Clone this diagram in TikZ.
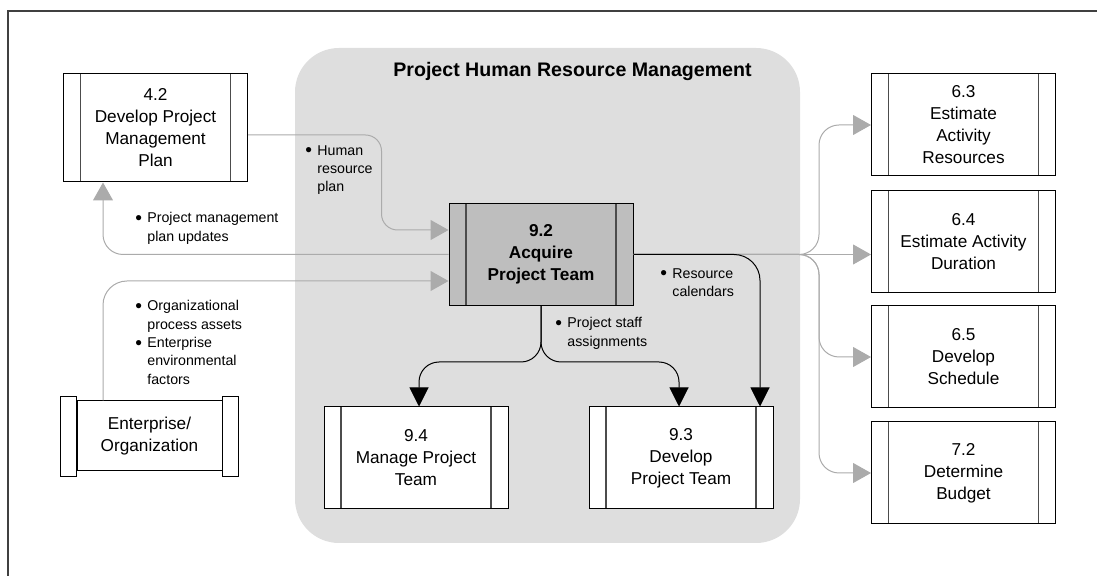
\documentclass[tikz,border=0pt]{standalone}
\usepackage{fontspec}
\setmainfont{Liberation Sans}
\usepackage{tikz}
\usetikzlibrary{arrows.meta,positioning,calc}
\definecolor{HrRegion}{HTML}{DEDEDE}
\definecolor{HrCore}{HTML}{BEBEBE}
\definecolor{HrFeed}{HTML}{ABABAB}
\definecolor{HrTip}{HTML}{A0A0A0}
\newcommand{\bitem}{\makebox[6pt][l]{\raisebox{-0.9pt}{\scalebox{1.35}{\textbullet}}}}
\newcommand{\bcont}{\hspace*{6pt}}

\begin{document}
\begin{tikzpicture}[
    x=0.5pt,y=-0.5pt,
    proc/.style={draw,line width=0.5pt,fill=white,minimum width=92pt,minimum height=51pt,inner sep=0pt,align=center,
      font=\fontsize{8.6}{11}\selectfont,
      path picture={
        \draw[line width=0.8pt,black!70] ([xshift=8.5pt]path picture bounding box.north west) -- ([xshift=8.5pt]path picture bounding box.south west);
        \draw[line width=0.8pt,black!70] ([xshift=-8.5pt]path picture bounding box.north east) -- ([xshift=-8.5pt]path picture bounding box.south east);
      }},
    lbl/.style={anchor=north west,inner sep=0pt,align=left,font=\fontsize{7.1}{9.2}\selectfont},
    feed/.style={-{Triangle[length=9pt,width=10pt]},HrFeed,line width=0.5pt,rounded corners=8pt},
    flow/.style={-{Triangle[length=9.5pt,width=9.5pt]},black,line width=0.5pt,rounded corners=10pt}
  ]
    \useasboundingbox (0,0) rectangle (1097,576);
    \draw[black!75,line width=0.8pt] (8,576) -- (8,11) -- (1097,11);
    \fill[HrRegion,rounded corners=22pt] (295,48) rectangle (800,543);
    \node[anchor=base,font=\fontsize{9.8}{12}\selectfont\bfseries] (title) at (572.5,77) {Project Human Resource Management};

    % processes
    \node[proc,minimum height=54pt] (dpmp) at (155.5,128) {4.2\\Develop Project\\Management\\Plan};
    \node[proc,fill=HrCore,font=\fontsize{8.6}{11}\selectfont\bfseries] (apt) at (541,254.5) {9.2\\Acquire\\Project Team};
    \node[proc] (mpt) at (416,458) {9.4\\Manage Project\\Team};
    \node[proc] (dpt) at (681,458) {9.3\\Develop\\Project Team};
    \node[proc] (ear) at (963.5,125) {6.3\\Estimate\\Activity\\Resources};
    \node[proc] (ead) at (963.5,242) {6.4\\Estimate Activity\\Duration};
    \node[proc] (ds) at (963.5,357) {6.5\\Develop\\Schedule};
    \node[proc] (db) at (963.5,473) {7.2\\Determine\\Budget};
    \node[draw,line width=0.5pt,fill=white,minimum width=72.5pt,minimum height=35pt,align=center,
      font=\fontsize{8.6}{11}\selectfont] (ent) at (149.5,436) {Enterprise/\\Organization};
    \draw[line width=0.5pt,fill=white] ([xshift=-8pt,yshift=2pt]ent.north west) rectangle ([yshift=-2.5pt]ent.south west);
    \draw[line width=0.5pt,fill=white] ([yshift=2pt]ent.north east) rectangle ([xshift=8pt,yshift=-2.5pt]ent.south east);

    % inputs and outputs
    \draw[feed] ([yshift=-3.5pt]dpmp.east) -| ([xshift=-33.5pt,yshift=12.25pt]apt.west) -- ([yshift=12.25pt]apt.west);
    \draw[feed,rounded corners=10pt] (apt.west) -| ([xshift=-26.25pt]dpmp.south);
    \draw[feed,rounded corners=12pt] ([xshift=-23.25pt]ent.north) |- ([yshift=-13.25pt]apt.west);
    \draw[feed] (apt.east) -- (apt.east -| ead.west);
    \draw[feed,rounded corners=10pt] (apt.east) -| ([xshift=-26pt]ear.west) -- (ear.west);
    \draw[feed,rounded corners=10pt] (apt.east) -| ([xshift=-26pt]ds.west) -- (ds.west);
    \draw[feed,rounded corners=10pt] (apt.east) -| ([xshift=-26pt]db.west) -- (db.west);
    \draw[flow,rounded corners=13pt] (apt.east) -| ([xshift=39.5pt]dpt.north);
    \coordinate (split) at ([yshift=-28pt]apt.south);
    \draw[flow] (apt.south) -- (split) -| ([xshift=1.5pt]mpt.north);
    \draw[flow] (apt.south) -- (split) -| ([xshift=-1pt]dpt.north);

    \node[lbl] (hrp) at (305,145) {\bitem Human\\\bcont resource\\\bcont plan};
    \node[lbl] (pmu) at (135,212) {\bitem Project management\\\bcont plan updates};
    \node[lbl] (opa) at (135,300) {\bitem Organizational\\\bcont process assets\\\bitem Enterprise\\\bcont environmental\\\bcont factors};
    \node[lbl] (rcal) at (660,268) {\bitem Resource\\\bcont calendars};
    \node[lbl] (psa) at (555,317) {\bitem Project staff\\\bcont assignments};
  \end{tikzpicture}
\end{document}
